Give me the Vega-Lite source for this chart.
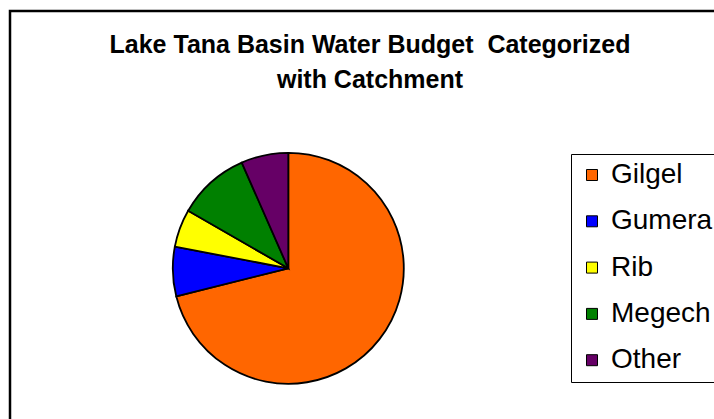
{
  "$schema": "https://vega.github.io/schema/vega-lite/v6.json",
  "width": 720,
  "height": 420,
  "autosize": "none",
  "padding": {"left": 10, "top": 11, "right": 0, "bottom": 0},
  "background": "white",
  "title": {
    "text": ["Lake Tana Basin Water Budget \u00a0Categorized", "with Catchment"],
    "font": "Liberation Sans",
    "fontSize": 25,
    "fontWeight": "bold",
    "color": "black",
    "anchor": "middle",
    "frame": "group",
    "offset": -83.5,
    "baseline": "top",
    "lineHeight": 35
  },
  "data": {
    "values": [
      {"category": "Gilgel", "share": 71.1, "rank": 1},
      {"category": "Gumera", "share": 6.9, "rank": 2},
      {"category": "Rib", "share": 5.3, "rank": 3},
      {"category": "Megech", "share": 10.1, "rank": 4},
      {"category": "Other", "share": 6.6, "rank": 5}
    ]
  },
  "layer": [
    {
      "data": {"values": [{"frame": "chart"}]},
      "mark": {"type": "rect", "fill": "white", "fillOpacity": 0, "stroke": "black", "strokeWidth": 2.5},
      "encoding": {}
    },
    {
      "mark": {"type": "arc", "x": 278.3, "y": 257.3, "radius": 115.5, "stroke": "black", "strokeWidth": 1.8},
      "encoding": {
        "theta": {"field": "share", "type": "quantitative"},
        "order": {"field": "rank", "type": "quantitative"},
        "color": {
          "field": "category",
          "type": "nominal",
          "scale": {
            "domain": ["Gilgel", "Gumera", "Rib", "Megech", "Other"],
            "range": ["#FF6600", "#0000FF", "#FFFF00", "#008000", "#660066"]
          },
          "legend": {
            "title": null,
            "orient": "none",
            "legendX": 561,
            "legendY": 143,
            "padding": 7,
            "strokeColor": "black",
            "fillColor": "white",
            "symbolType": "square",
            "symbolSize": 121,
            "symbolStrokeColor": "black",
            "symbolStrokeWidth": 1,
            "labelFont": "Liberation Sans",
            "labelFontSize": 28,
            "labelColor": "black",
            "labelOffset": 5,
            "rowPadding": 18.3,
            "labelLimit": 300
          }
        }
      }
    }
  ],
  "config": {"view": {"stroke": null}}
}
